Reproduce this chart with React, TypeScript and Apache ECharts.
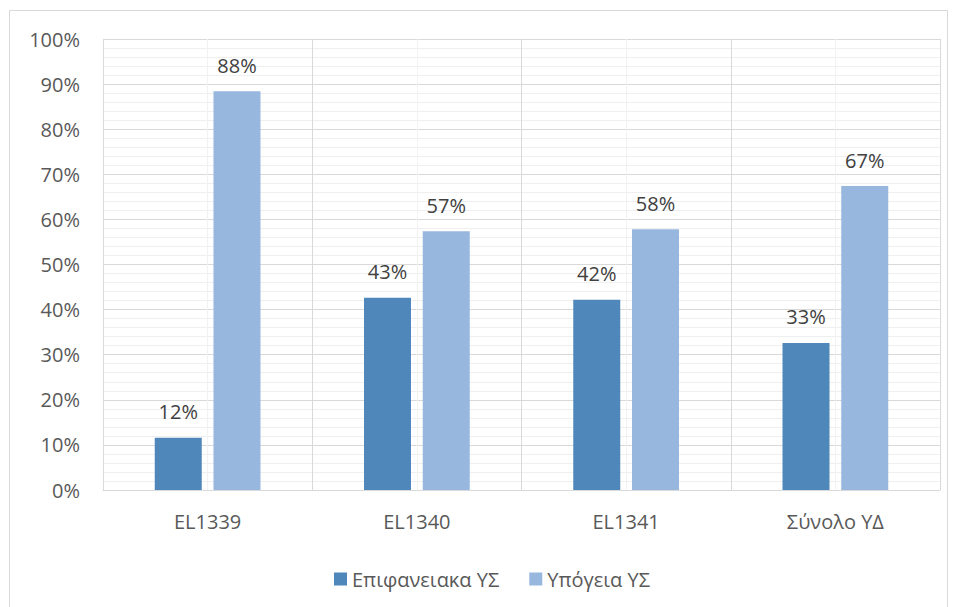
import React, { useEffect, useRef } from "react";
import * as echarts from "echarts";

const categories = ["EL1339", "EL1340", "EL1341", "Σύνολο ΥΔ"];
const surfaceValues = [11.6, 42.6, 42.2, 32.6];
const groundValues = [88.4, 57.4, 57.8, 67.4];
const seriesNames = ["Επιφανειακα ΥΣ", "Υπόγεια ΥΣ"];

const FONT = "'Open Sans', 'Noto Sans', sans-serif";
const TEXT = "#595959";

export default function App() {
  const ref = useRef<HTMLDivElement>(null);
  useEffect(() => {
    const chart = echarts.init(ref.current!, null, { renderer: "svg" });
    const label = {
      show: true,
      position: "top",
      distance: 16,
      color: "#404040",
      fontSize: 20,
      fontFamily: FONT,
      formatter: (p: any) => Math.round(p.value) + "%",
    };
    chart.setOption({
      animation: false,
      backgroundColor: "#ffffff",
      textStyle: { fontFamily: FONT },
      graphic: [
        {
          type: "rect",
          shape: { x: 9.5, y: 10.5, width: 938, height: 610 },
          style: { fill: "none", stroke: "#d9d9d9", lineWidth: 1 },
          silent: true,
          z: -10,
        },
      ],
      grid: { left: 103, top: 39, right: 16, bottom: 117, containLabel: false },
      legend: {
        left: 329,
        top: 564,
        itemWidth: 13,
        itemHeight: 13,
        itemGap: 30,
        icon: "rect",
        textStyle: { color: TEXT, fontSize: 20, fontFamily: FONT },
        data: seriesNames,
      },
      xAxis: [
        {
          type: "category",
          data: categories,
          axisLine: { show: true, lineStyle: { color: "#d9d9d9", width: 1 } },
          axisTick: { show: false },
          splitLine: { show: true, lineStyle: { color: "#d9d9d9", width: 1 } },
          axisLabel: { color: TEXT, fontSize: 20, fontFamily: FONT, margin: 21 },
          z: 3,
        },
        {
          type: "value",
          min: 0,
          max: 4,
          interval: 0.5,
          show: true,
          position: "bottom",
          axisLine: { show: false },
          axisTick: { show: false },
          axisLabel: { show: false },
          splitLine: { show: true, lineStyle: { color: "#f2f2f2", width: 1 } },
          z: 0,
        },
      ],
      yAxis: {
        type: "value",
        min: 0,
        max: 100,
        interval: 10,
        axisLine: { show: false },
        axisTick: { show: false },
        axisLabel: {
          color: TEXT,
          fontSize: 20,
          fontFamily: FONT,
          margin: 23,
          formatter: (v: number) => v + "%",
        },
        splitLine: { show: true, lineStyle: { color: "#d9d9d9", width: 1 } },
        minorTick: { show: false, splitNumber: 5 },
        minorSplitLine: { show: true, lineStyle: { color: "#efefef", width: 1 } },
      },
      series: [
        {
          name: seriesNames[0],
          type: "bar",
          data: surfaceValues,
          barWidth: 47,
          barGap: "25%",
          itemStyle: { color: "#4f87bb" },
          label,
          z: 5,
        },
        {
          name: seriesNames[1],
          type: "bar",
          data: groundValues,
          barWidth: 47,
          barGap: "25%",
          itemStyle: { color: "#97b7df" },
          label,
          z: 5,
        },
      ],
    });
    return () => chart.dispose();
  }, []);
  return (
    <div
      ref={ref}
      style={{ position: "fixed", left: 0, top: 0, width: 956, height: 607 }}
    />
  );
}
